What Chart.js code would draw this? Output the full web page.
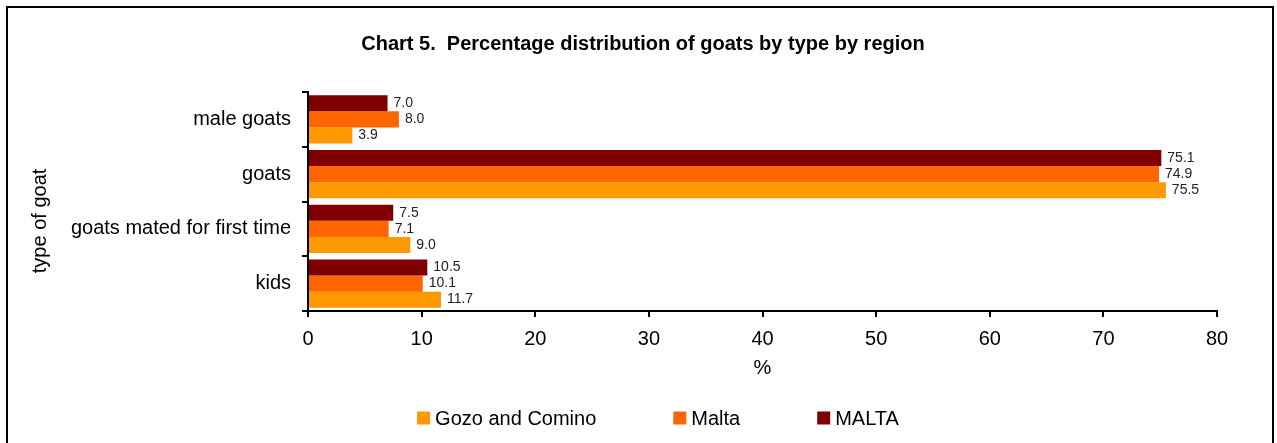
<!DOCTYPE html>
<html>
<head>
<meta charset="utf-8">
<script src="https://cdn.jsdelivr.net/npm/chart.js@4/dist/chart.umd.min.js"></script>
<style>
  html, body { margin: 0; padding: 0; background: #fff; overflow: hidden; }
  #frame { position: absolute; left: 6px; top: 6px; width: 1264px; height: 470px; border: 2px solid #000; }
  #goatChart { position: absolute; left: 0; top: 0; }
</style>
</head>
<body>
<div id="frame"></div>
<canvas id="goatChart" width="1290" height="443"></canvas>
<script>
// Dados do gráfico
const categories = ['male goats', 'goats', 'goats mated for first time', 'kids'];
const gozoValues = [3.9, 75.5, 9.0, 11.7];
const maltaValues = [8.0, 74.9, 7.1, 10.1];
const maltaTotalValues = [7.0, 75.1, 7.5, 10.5];
const xTicks = [0, 10, 20, 30, 40, 50, 60, 70, 80];

const FONT = 'Liberation Sans, Arial, sans-serif';

// Rótulos de valor ao fim de cada barra
const valueLabels = {
    id: 'valueLabels',
    afterDatasetsDraw(chart) {
        const ctx = chart.ctx;
        ctx.save();
        ctx.font = '14px ' + FONT;
        ctx.fillStyle = '#222';
        ctx.textAlign = 'left';
        ctx.textBaseline = 'middle';
        chart.data.datasets.forEach((ds, i) => {
            chart.getDatasetMeta(i).data.forEach((bar, j) => {
                ctx.fillText(ds.data[j].toFixed(1), bar.x + 6, bar.y);
            });
        });
        ctx.restore();
    }
};

// Legenda desenhada à mão, com espaçamento largo
const wideLegend = {
    id: 'wideLegend',
    afterDraw(chart) {
        const ctx = chart.ctx;
        const items = chart.data.datasets.slice().reverse();
        const box = 13, gap = 5, spacing = 77, centerX = 658, y = 418;
        ctx.save();
        ctx.font = '20px ' + FONT;
        ctx.textBaseline = 'middle';
        ctx.textAlign = 'left';
        const widths = items.map(d => box + gap + ctx.measureText(d.label).width);
        const total = widths.reduce((a, b) => a + b, 0) + spacing * (items.length - 1);
        let x = centerX - total / 2;
        items.forEach((d, i) => {
            ctx.fillStyle = d.backgroundColor;
            ctx.fillRect(x, y - box / 2, box, box);
            ctx.fillStyle = '#000';
            ctx.fillText(d.label, x + box + gap, y + 1);
            x += widths[i] + spacing;
        });
        ctx.restore();
    }
};

const ctx = document.getElementById('goatChart').getContext('2d');
new Chart(ctx, {
    type: 'bar',
    data: {
        labels: categories,
        datasets: [
            { label: 'MALTA', data: maltaTotalValues, backgroundColor: '#800000' },
            { label: 'Malta', data: maltaValues, backgroundColor: '#FF6600' },
            { label: 'Gozo and Comino', data: gozoValues, backgroundColor: '#FF9900' }
        ]
    },
    options: {
        indexAxis: 'y',
        responsive: false,
        animation: false,
        devicePixelRatio: 1,
        datasets: { bar: { categoryPercentage: 0.877, barPercentage: 1.0 } },
        layout: { padding: { top: 0, left: 69, right: 73, bottom: 57 } },
        plugins: {
            legend: { display: false },
            tooltip: { enabled: false },
            title: {
                display: true,
                text: 'Chart 5.  Percentage distribution of goats by type by region',
                color: '#000',
                font: { family: FONT, size: 20, weight: 'bold' },
                padding: { top: 32, bottom: 36 }
            }
        },
        scales: {
            x: {
                min: 0,
                max: 80,
                afterBuildTicks: (scale) => { scale.ticks = xTicks.map(v => ({ value: v })); },
                afterFit: (scale) => { scale.height = 75; },
                grid: { drawOnChartArea: false, color: '#000', lineWidth: 2, tickLength: 6 },
                border: { color: '#000', width: 2 },
                ticks: { color: '#000', padding: 10, font: { family: FONT, size: 20 } },
                title: {
                    display: true, text: '%', color: '#000',
                    font: { family: FONT, size: 20 },
                    padding: { top: 0, bottom: 6 }
                }
            },
            y: {
                afterFit: (scale) => { scale.width = 239; },
                grid: { offset: true, drawOnChartArea: false, color: '#000', lineWidth: 2, tickLength: 6 },
                border: { color: '#000', width: 2 },
                ticks: { color: '#000', padding: 11, font: { family: FONT, size: 20 } },
                title: {
                    display: true, text: 'type of goat       ', color: '#000',
                    font: { family: FONT, size: 20 },
                    padding: { top: -41, bottom: 0 }
                }
            }
        }
    },
    plugins: [valueLabels, wideLegend]
});
</script>
</body>
</html>
